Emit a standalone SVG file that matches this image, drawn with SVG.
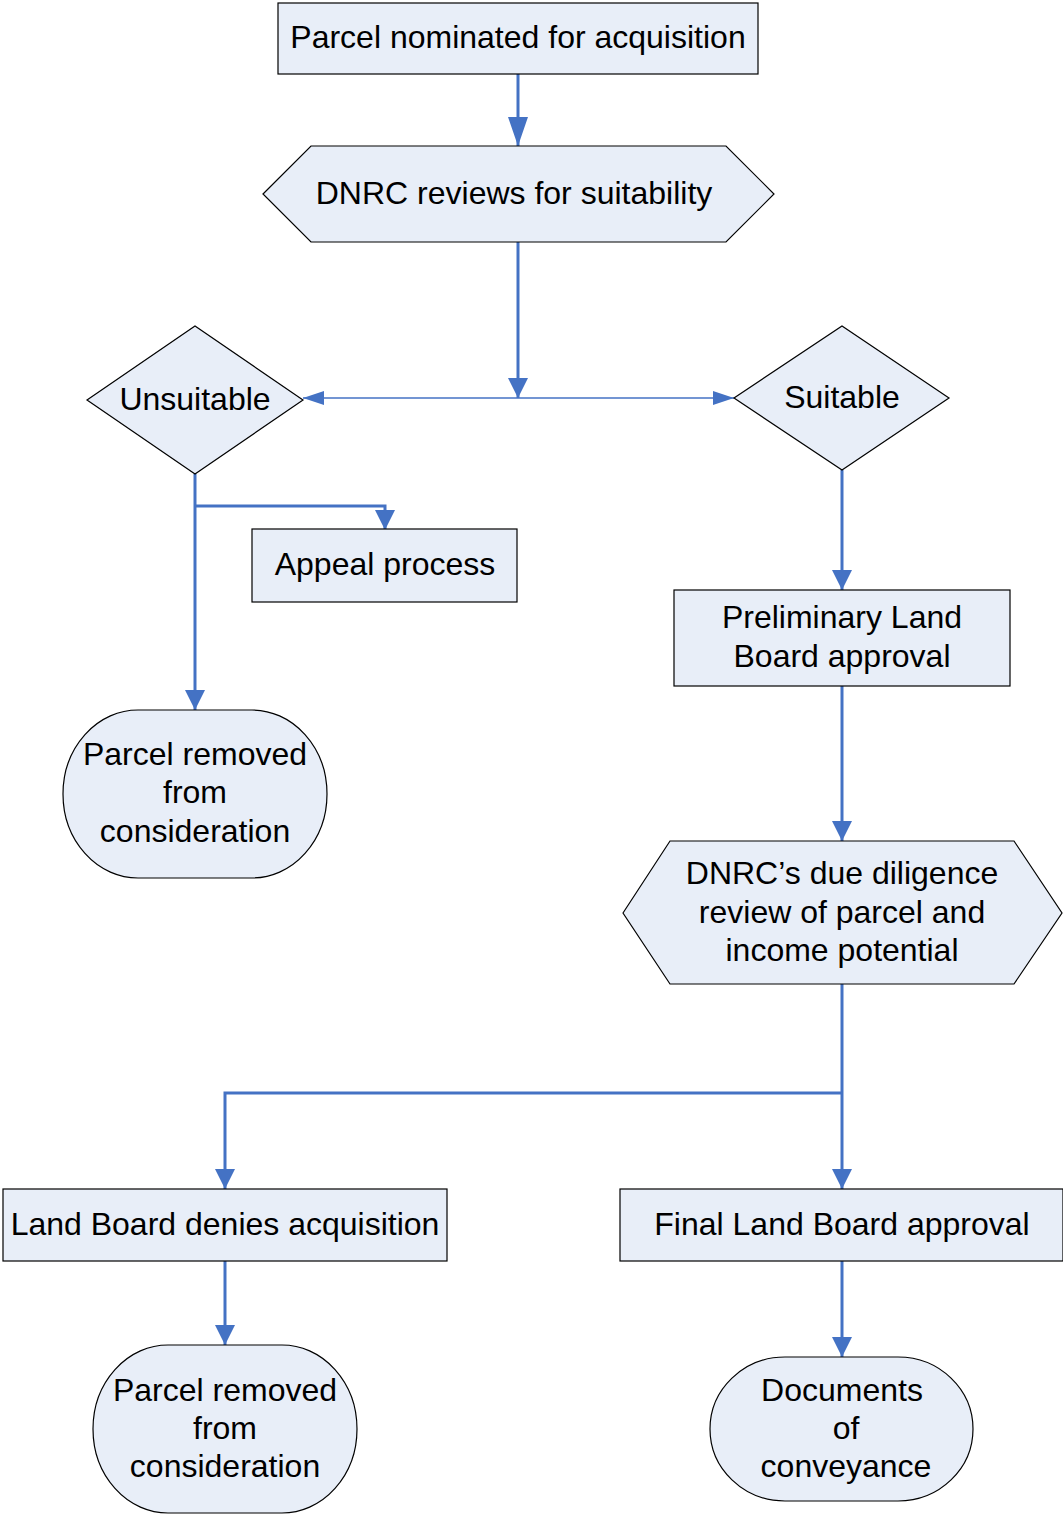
<svg xmlns="http://www.w3.org/2000/svg" width="1063" height="1515" viewBox="0 0 1063 1515">
<style>
.n{fill:#E8EEF8;stroke:#000;stroke-width:1.2}
.t{font-family:"Liberation Sans",Arial,sans-serif;font-size:32px;fill:#000;text-anchor:middle}
.c{fill:none;stroke:#4472C4;stroke-width:3}
.c1{fill:none;stroke:#4472C4;stroke-width:1.5}
</style>
<defs>
<marker id="a" markerUnits="userSpaceOnUse" markerWidth="20" markerHeight="20" refX="20" refY="10" orient="auto">
<path d="M0,0 L20,10 L0,20 z" fill="#4472C4"/>
</marker>
<marker id="aL" markerUnits="userSpaceOnUse" markerWidth="29" markerHeight="20" refX="29" refY="10" orient="auto">
<path d="M0,0 L29,10 L0,20 z" fill="#4472C4"/>
</marker>
<marker id="b" markerUnits="userSpaceOnUse" markerWidth="21" markerHeight="14" refX="21" refY="7" orient="auto">
<path d="M0,0 L21,7 L0,14 z" fill="#4472C4"/>
</marker>
</defs>
<rect width="1063" height="1515" fill="#fff"/>
<g id="connectors">
<path class="c" d="M518,74 V146" marker-end="url(#aL)"/>
<path class="c" d="M518,242 V398" marker-end="url(#a)"/>
<path class="c1" d="M518,398 H303" marker-end="url(#b)"/>
<path class="c1" d="M518,398 H734" marker-end="url(#b)"/>
<path class="c" d="M195,474 V710" marker-end="url(#a)"/>
<path class="c" d="M195,506 H385 V530" marker-end="url(#a)"/>
<path class="c" d="M842,470 V590" marker-end="url(#a)"/>
<path class="c" d="M842,686 V841" marker-end="url(#a)"/>
<path class="c" d="M842,984 V1189" marker-end="url(#a)"/>
<path class="c" d="M842,1093 H225 V1189" marker-end="url(#a)"/>
<path class="c" d="M225,1261 V1345" marker-end="url(#a)"/>
<path class="c" d="M842,1261 V1357" marker-end="url(#a)"/>
</g>
<g id="n1">
<rect class="n" x="278" y="3" width="480" height="71"/>
<text class="t" x="518" y="48">Parcel nominated for acquisition</text>
</g>
<g id="n2">
<polygon class="n" points="263,194 311,146 726,146 774,194 726,242 311,242"/>
<text class="t" x="514" y="204">DNRC reviews for suitability</text>
</g>
<g id="n3">
<polygon class="n" points="87,400 195,326 303,400 195,474"/>
<text class="t" x="195" y="410">Unsuitable</text>
</g>
<g id="n4">
<polygon class="n" points="734,398 842,326 949,398 842,470"/>
<text class="t" x="842" y="408">Suitable</text>
</g>
<g id="n5">
<rect class="n" x="252" y="529" width="265" height="73"/>
<text class="t" x="385" y="575">Appeal process</text>
</g>
<g id="n6">
<rect class="n" x="63" y="710" width="264" height="168" rx="75" ry="84"/>
<text class="t" x="195" y="765">Parcel removed</text>
<text class="t" x="195" y="803">from</text>
<text class="t" x="195" y="842">consideration</text>
</g>
<g id="n7">
<rect class="n" x="674" y="590" width="336" height="96"/>
<text class="t" x="842" y="628">Preliminary Land</text>
<text class="t" x="842" y="667">Board approval</text>
</g>
<g id="n8">
<polygon class="n" points="623,913 670,841 1014,841 1062,913 1014,984 670,984"/>
<text class="t" x="842" y="884">DNRC’s due diligence</text>
<text class="t" x="842" y="923">review of parcel and</text>
<text class="t" x="842" y="961">income potential</text>
</g>
<g id="n9">
<rect class="n" x="3" y="1189" width="444" height="72"/>
<text class="t" x="225" y="1235">Land Board denies acquisition</text>
</g>
<g id="n10">
<rect class="n" x="620" y="1189" width="443" height="72"/>
<text class="t" x="842" y="1235">Final Land Board approval</text>
</g>
<g id="n11">
<rect class="n" x="93" y="1345" width="264" height="168" rx="75" ry="84"/>
<text class="t" x="225" y="1401">Parcel removed</text>
<text class="t" x="225" y="1439">from</text>
<text class="t" x="225" y="1477">consideration</text>
</g>
<g id="n12">
<rect class="n" x="710" y="1357" width="263" height="144" rx="75" ry="72"/>
<text class="t" x="842" y="1401">Documents</text>
<text class="t" x="846" y="1439">of</text>
<text class="t" x="846" y="1477">conveyance</text>
</g>
</svg>
